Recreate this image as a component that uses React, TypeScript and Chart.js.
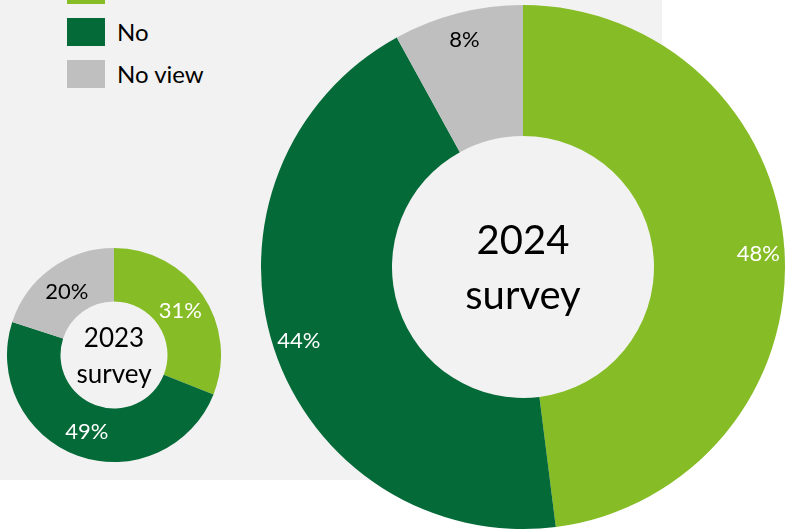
import React, { useEffect, useRef } from "react";
import { Chart, registerables } from "chart.js";
Chart.register(...registerables);

const categories = ["Yes", "No", "No view"];
const colors = ["#86BC25", "#046A38", "#BFBFBF"];
const labelColors = ["#FFFFFF", "#FFFFFF", "#000000"];
const values2023 = [31, 49, 20];
const values2024 = [48, 44, 8];
const title2023 = ["2023", "survey"];
const title2024 = ["2024", "survey"];

const FONT = "Lato, 'Open Sans', sans-serif";

const doughnutLabels = {
  id: "doughnutLabels",
  afterDatasetsDraw(chart: any, _args: any, opts: any) {
    const ctx = chart.ctx as CanvasRenderingContext2D;
    const meta = chart.getDatasetMeta(0);
    const ds = chart.data.datasets[0];
    ctx.save();
    ctx.font = `${opts.labelSize}px ${FONT}`;
    ctx.textAlign = "center";
    ctx.textBaseline = "middle";
    meta.data.forEach((arc: any, i: number) => {
      const p = arc.getProps(["x", "y", "startAngle", "endAngle", "outerRadius"], true);
      const mid = (p.startAngle + p.endAngle) / 2;
      const r = p.outerRadius * opts.labelRadius;
      ctx.fillStyle = labelColors[i];
      ctx.fillText(`${ds.data[i]}%`, p.x + Math.cos(mid) * r, p.y + Math.sin(mid) * r + 1.5);
    });
    const cx = meta.data[0].x;
    const cy = meta.data[0].y;
    const fs = opts.centerSize;
    ctx.font = `${fs}px ${FONT}`;
    ctx.fillStyle = "#000000";
    ctx.textBaseline = "alphabetic";
    const b1 = cy - 0.32 * fs;
    ctx.fillText(opts.lines[0], cx, b1);
    ctx.fillText(opts.lines[1], cx, b1 + 1.38 * fs);
    ctx.restore();
  },
};

function Doughnut(props: {
  values: number[];
  lines: string[];
  size: number;
  left: number;
  top: number;
  labelRadius: number;
  centerSize: number;
}) {
  const ref = useRef<HTMLCanvasElement | null>(null);
  useEffect(() => {
    if (!ref.current) return;
    const chart = new Chart(ref.current, {
      type: "doughnut",
      data: {
        labels: categories,
        datasets: [
          {
            data: props.values,
            backgroundColor: colors,
            borderWidth: 0,
            hoverOffset: 0,
          },
        ],
      },
      options: {
        responsive: false,
        animation: false,
        devicePixelRatio: 1,
        cutout: "50%",
        layout: { padding: 0 },
        plugins: {
          legend: { display: false },
          tooltip: { enabled: false },
          doughnutLabels: {
            labelSize: 22,
            labelRadius: props.labelRadius,
            centerSize: props.centerSize,
            lines: props.lines,
          },
        } as any,
      },
      plugins: [doughnutLabels as any],
    });
    return () => chart.destroy();
  }, []);
  return (
    <canvas
      ref={ref}
      width={props.size}
      height={props.size}
      style={{
        position: "absolute",
        left: props.left,
        top: props.top,
        width: props.size,
        height: props.size,
      }}
    />
  );
}

export default function App() {
  return (
    <div
      style={{
        position: "absolute",
        left: 0,
        top: 0,
        width: 785,
        height: 532,
        overflow: "hidden",
        background: "#FFFFFF",
        fontFamily: FONT,
      }}
    >
      <div
        style={{
          position: "absolute",
          left: 0,
          top: 0,
          width: 662,
          height: 480,
          background: "#F2F2F2",
        }}
      />
      {categories.map((c, i) => (
        <div
          key={c}
          style={{
            position: "absolute",
            left: 67,
            top: -24 + i * 42,
            height: 28,
            display: "flex",
            alignItems: "center",
          }}
        >
          <div style={{ width: 38, height: 28, background: colors[i] }} />
          <span
            style={{
              marginLeft: 12,
              fontSize: 24,
              color: "#000000",
              lineHeight: "28px",
              whiteSpace: "nowrap",
            }}
          >
            {c}
          </span>
        </div>
      ))}
      <Doughnut
        values={values2023}
        lines={title2023}
        size={214}
        left={7}
        top={248}
        labelRadius={0.75}
        centerSize={26}
      />
      <Doughnut
        values={values2024}
        lines={title2024}
        size={524}
        left={261}
        top={5}
        labelRadius={0.9}
        centerSize={40}
      />
    </div>
  );
}
